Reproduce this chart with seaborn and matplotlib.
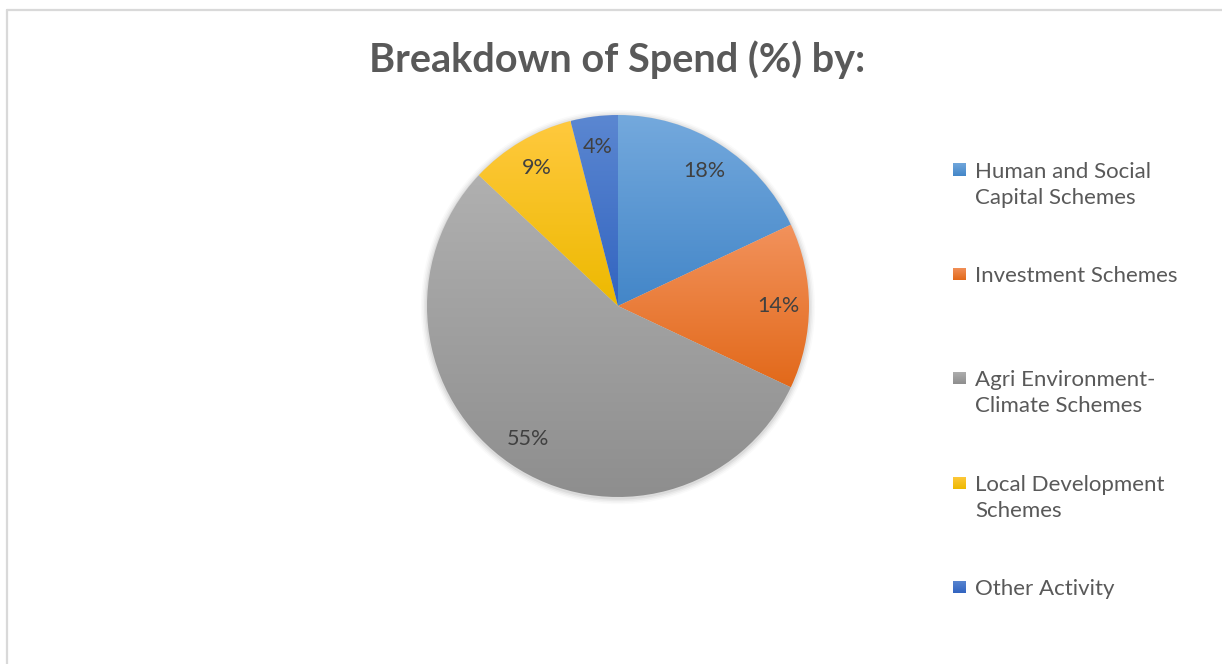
import matplotlib
matplotlib.use("Agg")
import matplotlib.pyplot as plt
import numpy as np
import seaborn as sns
from matplotlib.colors import LinearSegmentedColormap
from matplotlib.lines import Line2D
from matplotlib.patches import Circle

# Data
categories = [
    "Human and Social\nCapital Schemes",
    "Investment Schemes",
    "Agri Environment-\nClimate Schemes",
    "Local Development\nSchemes",
    "Other Activity",
]
shares = [18, 14, 55, 9, 4]

# Excel-style gradient colours per slice (top, bottom)
SLICE_TOP = ["#74a9dd", "#f2925c", "#b0b0b0", "#ffc93e", "#5b87d1"]
SLICE_BOTTOM = ["#4386c8", "#e2691a", "#8e8e8e", "#edb900", "#3264c0"]

sns.set_theme(style="white")
plt.rcParams["font.family"] = ["Lato", "DejaVu Sans"]

W, H = 1222, 664
fig = plt.figure(figsize=(W / 100, H / 100), dpi=100)
fig.patch.set_facecolor("white")

# light frame (only top and left edges visible)
fig.add_artist(Line2D([7 / W, 1], [1 - 9.5 / H, 1 - 9.5 / H], color="#d9d9d9", lw=1.6))
fig.add_artist(Line2D([7 / W, 7 / W], [0, 1 - 9.5 / H], color="#d9d9d9", lw=1.6))

cx, cy, r = 618, 306, 191
pad = 1.08
ax = fig.add_axes([(cx - r * pad) / W, (H - cy - r * pad) / H, 2 * r * pad / W, 2 * r * pad / H])
ax.set_axis_off()

# soft shadow around the pie
for i, a in enumerate([0.05, 0.04, 0.03, 0.02]):
    ax.add_patch(Circle((0.0, -0.006), 1.0 + 0.008 * (i + 1), color="#000000", alpha=a, lw=0, zorder=0))

wedges, texts, autotexts = ax.pie(
    shares,
    startangle=90,
    counterclock=False,
    autopct="%1.0f%%",
    pctdistance=0.84,
    wedgeprops=dict(linewidth=0),
    textprops=dict(color="#404040", fontsize=15.5),
    radius=1.0,
)

grad = np.linspace(0, 1, 256).reshape(-1, 1)
for w, top, bot in zip(wedges, SLICE_TOP, SLICE_BOTTOM):
    ext = w.get_path().get_extents()
    cmap = LinearSegmentedColormap.from_list("g", [top, bot])
    im = ax.imshow(grad, cmap=cmap, aspect="auto",
                   extent=[ext.x0, ext.x1, ext.y0, ext.y1], origin="upper", zorder=1)
    im.set_clip_path(w)
    w.set_facecolor("none")
for t in autotexts:
    t.set_zorder(3)

ax.set_xlim(-pad, pad)
ax.set_ylim(-pad, pad)
ax.set_aspect("equal")

fig.text(617 / W, 1 - 60 / H, "Breakdown of Spend (%) by:", ha="center", va="center",
         fontsize=28.5, fontweight="bold", color="#595959")

# legend, first line aligned with the marker
marker_y = [170, 274, 378, 483, 587]
for lab, y, top, bot in zip(categories, marker_y, SLICE_TOP, SLICE_BOTTOM):
    sq = 13
    lax = fig.add_axes([953 / W, (H - y - sq / 2) / H, sq / W, sq / H])
    lax.imshow(grad, cmap=LinearSegmentedColormap.from_list("g", [top, bot]), aspect="auto")
    lax.set_axis_off()
    fig.text(975 / W, 1 - (y - 8) / H, lab, ha="left", va="top", fontsize=16,
             color="#595959", linespacing=1.4)

fig.savefig("out.png", dpi=100)
